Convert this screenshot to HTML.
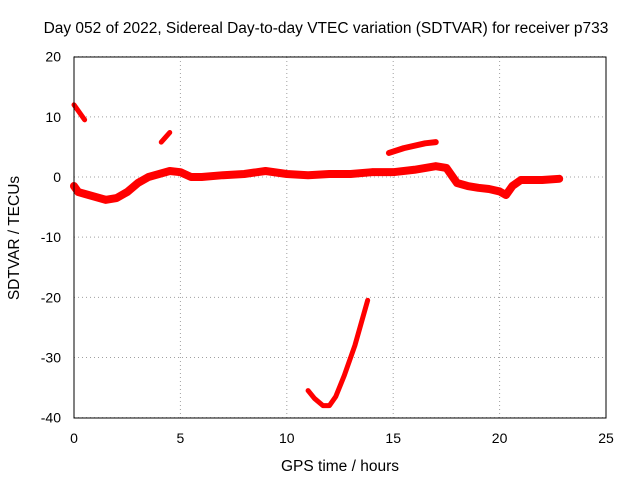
<!DOCTYPE html>
<html><head><meta charset="utf-8"><style>
body{margin:0;background:#fff}
text{font-family:"Liberation Sans",sans-serif;font-size:14px;fill:#000}
.big{font-size:15.5px}
</style></head><body>
<svg id="chart" width="640" height="480">
<text class="big" x="326" y="33" text-anchor="middle">Day 052 of 2022, Sidereal Day-to-day VTEC variation (SDTVAR) for receiver p733</text>
<text class="big" x="340" y="471" text-anchor="middle">GPS time / hours</text>
<text class="big" transform="translate(19,238) rotate(-90)" text-anchor="middle">SDTVAR / TECUs</text>
<g id="grid"></g><g id="ticks"></g><g id="series"></g>
<rect x="74" y="57" width="532" height="361" fill="none" stroke="#000"/>
</svg>
<script>
const xTicks=[0,5,10,15,20,25];
const yTicks=[-40,-30,-20,-10,0,10,20];
const seg1X=[0,0.2,0.5];const seg1Y=[12,11,9.5];
const seg2X=[4.1,4.3,4.5];const seg2Y=[5.8,6.6,7.4];
const bandX=[0,0.2,0.5,1,1.5,2,2.5,3,3.5,4,4.5,5,5.5,6,7,8,9,10,11,12,13,14,15,16,17,17.5,18,18.5,19,19.5,20,20.3,20.6,21,22,22.8];
const bandY=[-1.5,-2.5,-2.8,-3.3,-3.8,-3.5,-2.5,-1,0,0.5,1,0.8,0,0,0.3,0.5,1,0.5,0.3,0.5,0.5,0.8,0.8,1.2,1.8,1.5,-1,-1.5,-1.8,-2,-2.4,-3,-1.5,-0.5,-0.5,-0.3];
const seg3X=[14.8,15.5,16.5,17];const seg3Y=[4,4.8,5.6,5.8];
const curveX=[11,11.3,11.7,12,12.3,12.7,13.2,13.8];const curveY=[-35.5,-36.8,-38,-38,-36.5,-33,-28,-20.5];
const sx=v=>74+v*532/25, sy=v=>177-v*361/60;
const NS="http://www.w3.org/2000/svg";
const grid=document.getElementById('grid'),tk=document.getElementById('ticks'),ser=document.getElementById('series');
xTicks.forEach(t=>{
 const l=document.createElementNS(NS,'line');
 l.setAttribute('x1',sx(t));l.setAttribute('x2',sx(t));l.setAttribute('y1',57);l.setAttribute('y2',418);
 l.setAttribute('stroke','#a0a0a0');l.setAttribute('stroke-dasharray','1,3');
 
 
 grid.appendChild(l);
 const s=document.createElementNS(NS,'text');s.setAttribute('x',sx(t));s.setAttribute('y',443);s.setAttribute('text-anchor','middle');s.textContent=t;
 
 
 tk.appendChild(s);
});
yTicks.forEach(t=>{
 const l=document.createElementNS(NS,'line');
 l.setAttribute('x1',74);l.setAttribute('x2',606);l.setAttribute('y1',sy(t));l.setAttribute('y2',sy(t));
 l.setAttribute('stroke','#a0a0a0');l.setAttribute('stroke-dasharray','1,3');
 
 
 grid.appendChild(l);
 const s=document.createElementNS(NS,'text');s.setAttribute('x',61);s.setAttribute('y',sy(t)+5);s.setAttribute('text-anchor','end');s.textContent=t;
 
 
 tk.appendChild(s);
});
function draw(xs,ys,name,w){
 const p=document.createElementNS(NS,'polyline');
 p.setAttribute('points',xs.map((x,i)=>sx(x)+','+sy(ys[i])).join(' '));
 p.setAttribute('fill','none');p.setAttribute('stroke','#ff0000');p.setAttribute('stroke-width',w);
 p.setAttribute('stroke-linejoin','round');p.setAttribute('stroke-linecap','round');
 
 
 ser.appendChild(p);
}
draw(seg1X,seg1Y,'series-early-high',5);
draw(seg2X,seg2Y,'series-short-arc',5);
draw(bandX,bandY,'series-main-band',8);
draw(seg3X,seg3Y,'series-upper-arc',6);
draw(curveX,curveY,'series-low-curve',5);
</script>
</body></html>
